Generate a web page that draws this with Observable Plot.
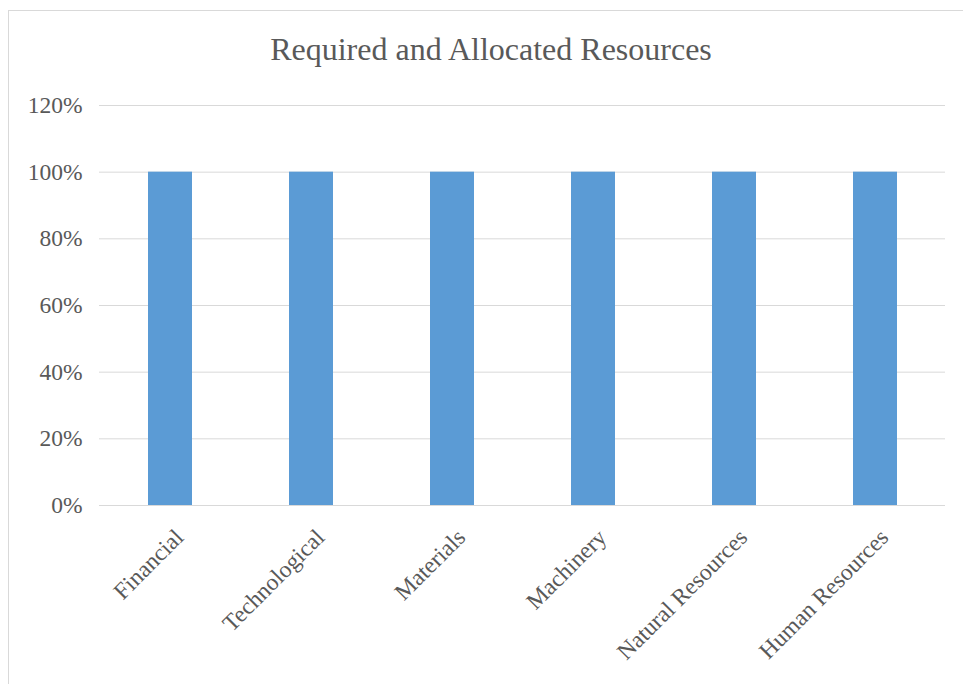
<!DOCTYPE html>
<html>
<head>
<meta charset="utf-8">
<script src="https://cdn.jsdelivr.net/npm/d3@7"></script>
<script src="https://cdn.jsdelivr.net/npm/@observablehq/plot@0.6"></script>
<style>
  html, body { margin: 0; padding: 0; background: #fff; width: 963px; height: 684px; overflow: hidden; }
  #wrap { position: absolute; left: 8px; top: 10px; width: 955px; height: 674px;
          border-left: 1px solid #d9d9d9; border-top: 1px solid #d9d9d9; box-sizing: border-box; }
  #title { height: 76px; line-height: 76px; text-align: center; font-family: "Liberation Serif", serif;
           font-size: 32px; color: #595959; padding-left: 10px; }
</style>
</head>
<body>
<div id="wrap">
  <div id="title">Required and Allocated Resources</div>
  <div id="chart"></div>
</div>
<script>
const categories = ["Financial", "Technological", "Materials", "Machinery", "Natural Resources", "Human Resources"];
const values = [1.0, 1.0, 1.0, 1.0, 1.0, 1.0];
const yTicks = [0, 0.2, 0.4, 0.6, 0.8, 1.0, 1.2];

const data = categories.map((c, i) => ({category: c, value: values[i]}));

const chart = Plot.plot({
  width: 954,
  height: 597,
  marginTop: 18,
  marginBottom: 179,
  marginLeft: 90,
  marginRight: 18,
  style: {fontFamily: "'Liberation Serif', serif", fontSize: "23.5px", color: "#595959", background: "transparent"},
  x: {domain: categories, paddingInner: 0.69, paddingOuter: 0.345, label: null},
  y: {domain: [0, 1.2], label: null},
  marks: [
    Plot.gridY(yTicks, {stroke: "#d9d9d9", strokeOpacity: 1, strokeWidth: 1}),
    Plot.barY(data, {x: "category", y: "value", fill: "#5b9bd5"}),
    Plot.axisY(yTicks, {tickSize: 0, tickPadding: 17, tickFormat: d => Math.round(d * 100) + "%", label: null, fill: "#595959"}),
    Plot.axisX({tickSize: 0, tickPadding: 0, tickRotate: -45, dy: 28, dx: 9, label: null, fill: "#595959"})
  ]
});
document.getElementById("chart").appendChild(chart);
</script>
</body>
</html>
